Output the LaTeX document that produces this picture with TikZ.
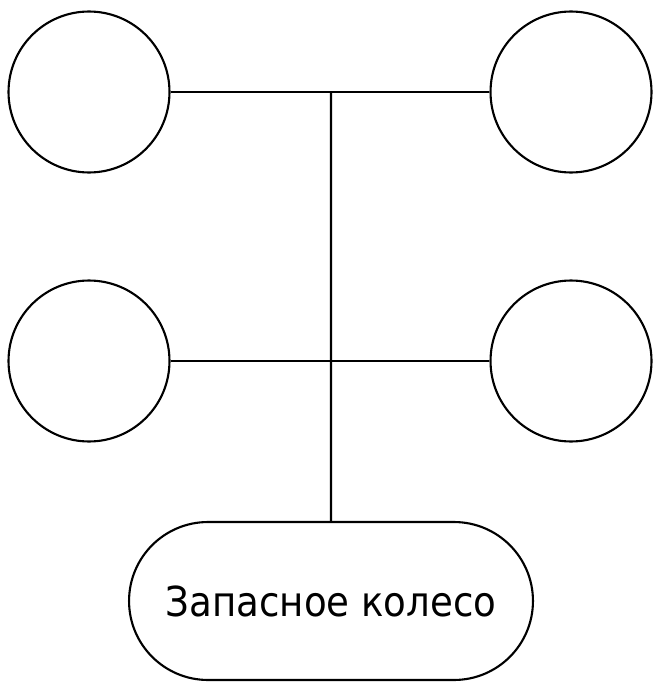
\documentclass[tikz,border=0pt]{standalone}
\usepackage{fontspec}
\newfontfamily\labelfont{DejaVu Sans Condensed}
\usetikzlibrary{shapes.misc}

\begin{document}
\begin{tikzpicture}[
    x=0.02cm, y=-0.02cm,
    wheel/.style={circle, draw=black, line width=1.2pt, minimum size=3.22cm, inner sep=0pt},
    spare/.style={rounded rectangle, draw=black, line width=1.2pt, minimum width=8.08cm, minimum height=3.16cm, inner sep=0pt, font=\labelfont\fontsize{23.5}{28}\selectfont},
    axle/.style={draw=black, line width=1.2pt}
  ]
  \useasboundingbox (0,0) rectangle (652,682);
  \node[wheel] (frontleft) at (89,92) {};
  \node[wheel] (frontright) at (571,92) {};
  \node[wheel] (rearleft) at (89,361) {};
  \node[wheel] (rearright) at (571,361) {};
  \node[spare] (sparewheel) at (331,601) {Запасное колесо};
  \coordinate (fronthub) at (331,92);

  \draw[axle] (frontleft) -- (frontright);
  \draw[axle] (rearleft) -- (rearright);
  \draw[axle] (fronthub) -- (sparewheel);
\end{tikzpicture}
\end{document}
